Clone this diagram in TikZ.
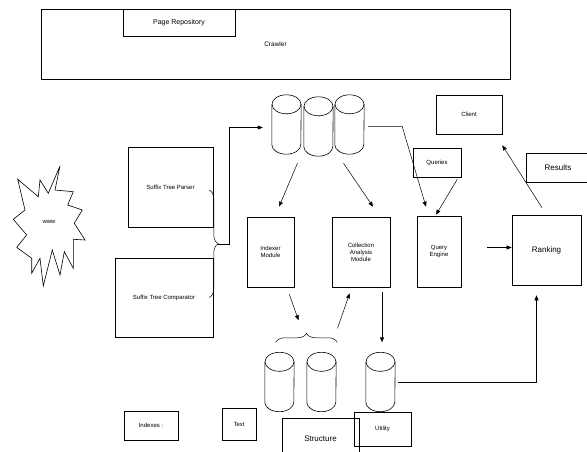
\documentclass[tikz,border=0pt]{standalone}
\usepackage{fontspec}
\setmainfont{Liberation Sans}
\usetikzlibrary{decorations.pathreplacing,calc,arrows.meta}

% cylinder drawn round an empty named node
\newcommand{\drawstore}[1]{%
  \draw[line width=0.6pt] ($(#1.north west)+(0,9.5)$) -- ($(#1.south west)+(0,-9.5)$)
    arc[start angle=180, end angle=360, x radius=14.5pt, y radius=9.5pt]
    -- ($(#1.north east)+(0,9.5)$);
  \draw[line width=0.6pt] ($(#1.north)+(0,9.5)$) ellipse[x radius=14.5pt, y radius=9.5pt];}

\begin{document}
\begin{tikzpicture}[x=1pt,y=-1pt,
    box/.style={draw, line width=0.6pt, inner sep=1pt, align=center, font=\fontsize{6}{7}\selectfont},
    bigtext/.style={font=\fontsize{8}{9.5}\selectfont},
    store/.style={minimum width=29pt, minimum height=59pt, inner sep=0pt},
    arr/.style={-{Triangle[length=5pt,width=4pt]}, line width=0.5pt},
    brc/.style={decorate, decoration={brace, amplitude=9pt}, line width=0.5pt}]
    \useasboundingbox (0,0) rectangle (587,452);
    % crawler and repository
    \node[box, minimum width=469pt, minimum height=70pt, font=\fontsize{6.5}{8}\selectfont] (crawler) at (275.5,44) {Crawler};
    \node[box, minimum width=112pt, minimum height=27pt, font=\fontsize{7}{8}\selectfont] (repo) at (179,22.5) {Page Repository};
    % web
    \draw[line width=0.6pt] (60,166) -- (55,190) -- (73.3,191.7) -- (67.7,205) -- (82.3,210)
        -- (74.3,223.3) -- (85,240) -- (73.3,239.3) -- (73.3,268.3) -- (64.3,251.7)
        -- (60,275) -- (52.3,250) -- (43.3,286) -- (40,258.3) -- (31.7,273.3)
        -- (31.7,258.3) -- (16.7,247.3) -- (26.7,235) -- (13.3,219.3) -- (25,210)
        -- (17.7,179.3) -- (38.3,196.7) -- (40,180) -- (48.3,193.3) -- cycle;
    \node[font=\fontsize{6}{7}\selectfont] (web) at (49,222) {www};
    % parsers
    \node[box, minimum width=85pt, minimum height=80pt] (parser) at (170.5,187) {Suffix Tree Parser};
    \node[box, minimum width=98pt, minimum height=79pt] (comparator) at (164,297.5) {Suffix Tree Comparator};
    % page stores
    \node[store] (c1) at (286.5,124.5) {};
    \node[store] (c2) at (318.5,126.5) {};
    \node[store] (c3) at (349.5,124.5) {};
    \drawstore{c1} \drawstore{c2} \drawstore{c3}
    % modules
    \node[box, minimum width=47pt, minimum height=70pt] (indexer) at (270.5,252) {Indexer\\Module};
    \node[box, minimum width=58pt, minimum height=70pt] (collection) at (361,252) {Collection\\Analysis\\Module};
    \node[box, minimum width=44pt, minimum height=71pt] (engine) at (439,251.5) {Query\\Engine};
    \node[box, bigtext, minimum width=69pt, minimum height=70pt] (ranking) at (546.5,250) {Ranking};
    \node[box, minimum width=66pt, minimum height=39pt] (client) at (469,114.5) {Client};
    \node[box, minimum width=48pt, minimum height=29pt] (queries) at (437,162.5) {Queries};
    \node[box, bigtext, minimum width=64pt, minimum height=29pt] (results) at (558,167.5) {Results};
    % index stores
    \node[store] (b1) at (279.5,382) {};
    \node[store] (b2) at (321.5,382) {};
    \node[store] (b3) at (380.5,382) {};
    \drawstore{b1} \drawstore{b2} \drawstore{b3}
    % legend
    \node[box, minimum width=54pt, minimum height=29pt] (indexes) at (151,425.5) {Indexes :};
    \node[box, minimum width=34pt, minimum height=32pt] (textkind) at (239,424) {Text};
    \node[box, bigtext, minimum width=77pt, minimum height=42pt] (structure) at (320.5,439) {Structure};
    \node[box, minimum width=57pt, minimum height=34pt] (utility) at (382.5,429) {Utility};
    % braces
    \draw[brc] ($(parser.east)+(-4,3)$) -- ($(comparator.east)+(-4,0)$)
        coordinate[pos=0.5, xshift=9pt] (parsetip);
    \draw[brc] ($(b1.north west)+(11,-10)$) -- ($(b2.north east)+(1,-10)$)
        coordinate[pos=0.5] (indexmid);
    \coordinate (toindex) at ($(indexmid)+(-8,-22)$);
    \coordinate (fromindex) at ($(indexmid)+(31,-14)$);
    \coordinate (engout) at ($(engine.east)+(26,-4)$);
    % arrows
    \draw[arr] (parsetip) -- ++(11,0) |- ($(c1.west)+(-9,3)$);
    \draw[arr] ($(c1.south)+(11,9)$) -- ($(indexer.north)+(8.5,-10)$);
    \draw[arr] ($(c3.south)+(-6,9)$) -- ($(collection.north)+(12,-10)$);
    \draw[arr] ($(c3.east)+(4,2)$) -- ++(34,0) -- ($(engine.north)+(-13,-9)$);
    \draw[arr] ($(queries.south east)+(-4,2)$) -- ($(engine.north)+(-3,-1)$);
    \draw[arr] ($(ranking.north)+(-4.5,-7)$) -- ($(client.south east)+(0,11)$);
    \draw[arr] (engout) -- (engout -| ranking.west);
    \draw[arr] ($(b3.east)+(3,0)$) -| ($(ranking.south)+(-10,10)$);
    \draw[arr] ($(indexer.south east)+(-5,7)$) -- (toindex);
    \draw[arr] (fromindex) -- ($(collection.south west)+(18,6)$);
    \draw[arr] ($(collection.south -| b3.north)+(1.5,5)$) -- ($(b3.north)+(1.5,-10)$);
\end{tikzpicture}
\end{document}
